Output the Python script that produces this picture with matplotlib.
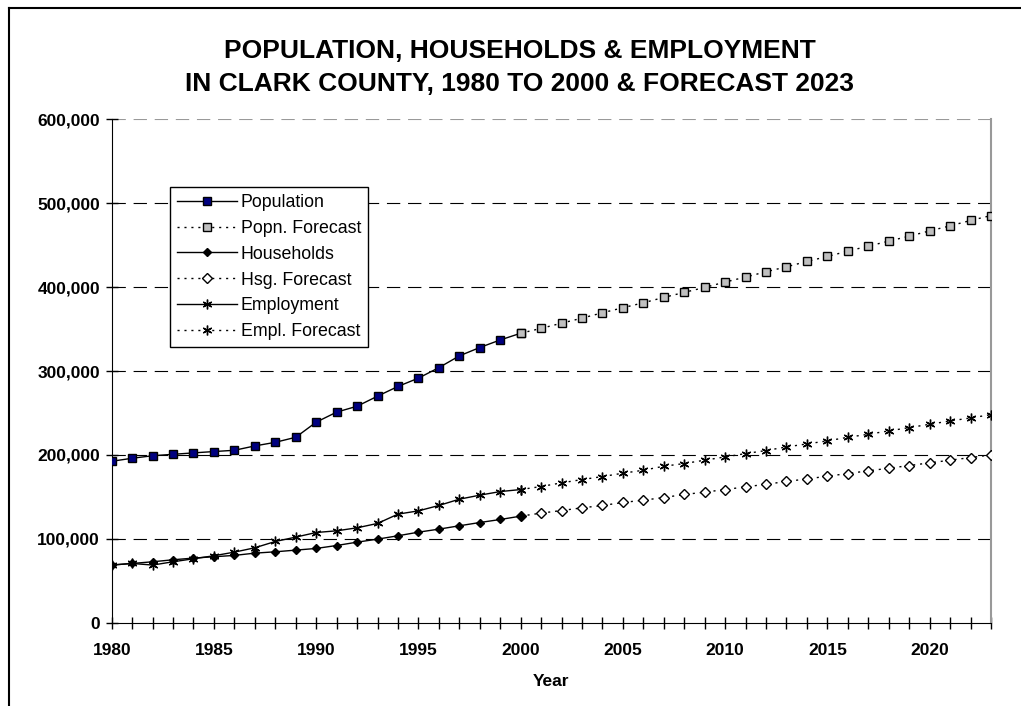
import matplotlib.pyplot as plt
from matplotlib.lines import Line2D
from matplotlib.ticker import FuncFormatter, MultipleLocator

plt.rcParams['font.family'] = ['Liberation Sans', 'DejaVu Sans']

# actual values 1980-2000
years_actual = list(range(1980, 2001))
population = [192400, 196000, 199000, 200700, 202400, 204000, 205500, 210700, 215000, 221000,
              239000, 251000, 258000, 270000, 281600, 291500, 304000, 318000, 328000, 337000, 345000]
households = [68700, 70600, 72600, 75000, 77000, 78600, 80200, 82900, 84500, 86500,
              88500, 92000, 96000, 99600, 103600, 107900, 111500, 115500, 119400, 123000, 127000]
employment = [68700, 70600, 68700, 72600, 76200, 79800, 84100, 89300, 96800, 102000,
              107500, 109500, 113100, 118300, 129400, 133300, 139700, 147200, 152000, 156300, 158700]

# forecast values 2000-2023
years_fc = list(range(2000, 2024))
popn_fc = [345000, 350800, 357000, 363000, 369400, 375400, 381300, 387700, 393700, 399600,
           406000, 412000, 418300, 424200, 430600, 436500, 442900, 448800, 454800, 460700,
           467000, 473000, 479400, 485300]
hsg_fc = [127000, 130600, 133700, 136900, 139700, 143300, 146000, 149200, 152800, 155600,
          158700, 161900, 165000, 168300, 171400, 174600, 177800, 181000, 184100, 187300,
          190500, 193700, 196800, 200000]
empl_fc = [158700, 162300, 166700, 170600, 174200, 178200, 181700, 186500, 189700, 193700,
           197600, 201600, 205200, 209500, 213100, 216700, 221000, 224600, 228600, 232500,
           236500, 240500, 244000, 248000]

fig = plt.figure(figsize=(10.21, 7.06), dpi=100)
ax = fig.add_axes([0.1094, 0.118, 0.8612, 0.713])

dot = (0, (1.5, 3.5))
ax.plot(years_actual, population, color="black", lw=1, marker="s", ms=5.5,
        mfc="#000080", mec="black", mew=1, zorder=3, label="Population")
ax.plot(years_fc, popn_fc, color="black", lw=1, ls=dot, marker="s", ms=5.5,
        mfc="#c0c0c0", mec="black", mew=1, zorder=4, label="Popn. Forecast")
ax.plot(years_actual, households, color="black", lw=1, marker="D", ms=4.5,
        mfc="black", mec="black", zorder=4, label="Households")
ax.plot(years_fc, hsg_fc, color="black", lw=1, ls=dot, marker="D", ms=5,
        mfc="white", mec="black", mew=1, zorder=3, label="Hsg. Forecast")
ax.plot(years_actual, employment, color="black", lw=1, marker=(6, 2, 0), ms=7,
        mec="black", mew=1, zorder=4, label="Employment")
ax.plot(years_fc, empl_fc, color="black", lw=1, ls=dot, marker=(6, 2, 0), ms=7,
        mec="black", mew=1, zorder=3, label="Empl. Forecast")

ax.set_xlim(1980, 2023)
ax.set_ylim(0, 600000)
ax.xaxis.set_major_locator(MultipleLocator(5))
ax.xaxis.set_minor_locator(MultipleLocator(1))
ax.yaxis.set_major_locator(MultipleLocator(100000))
ax.yaxis.set_major_formatter(FuncFormatter(lambda v, p: f"{int(v):,}"))

ax.tick_params(axis="both", which="both", direction="inout", length=9, width=1)
ax.tick_params(axis="x", which="major", pad=10)
ax.tick_params(axis="y", which="major", pad=4)
ax.tick_params(top=False, right=False, which="both")
for lab in ax.get_xticklabels() + ax.get_yticklabels():
    lab.set_fontweight("bold")
    lab.set_fontsize(12.5)

for v in range(100000, 600001, 100000):
    ax.axhline(v, color="black" if v < 600000 else "#999999", lw=0.8,
               ls=(0, (12, 7)), zorder=1)

ax.spines["top"].set_visible(False)
ax.spines["right"].set_color("#999999")
ax.spines["right"].set_linewidth(1.5)

ax.set_xlabel("Year", fontsize=12.5, fontweight="bold", labelpad=12)

leg = ax.legend(loc="upper left", bbox_to_anchor=(0.066, 0.866), fontsize=12.8,
                frameon=True, fancybox=False, edgecolor="black", framealpha=1,
                handlelength=3.4, labelspacing=0.5, handletextpad=0.2,
                borderpad=0.4, borderaxespad=0)
leg.get_frame().set_linewidth(1)

fig.text(0.509, 0.928, "POPULATION, HOUSEHOLDS & EMPLOYMENT", ha="center", va="center",
         fontsize=19, fontweight="bold")
fig.text(0.509, 0.881, "IN CLARK COUNTY, 1980 TO 2000 & FORECAST 2023", ha="center",
         va="center", fontsize=19, fontweight="bold")

# outer chart border (only top and left visible in the crop)
fig.add_artist(Line2D([9 / 1021, 1], [1 - 8 / 706, 1 - 8 / 706], color="black", lw=1.5))
fig.add_artist(Line2D([9 / 1021, 9 / 1021], [0, 1 - 8 / 706], color="black", lw=1.5))

fig.savefig("out.png", dpi=100)
